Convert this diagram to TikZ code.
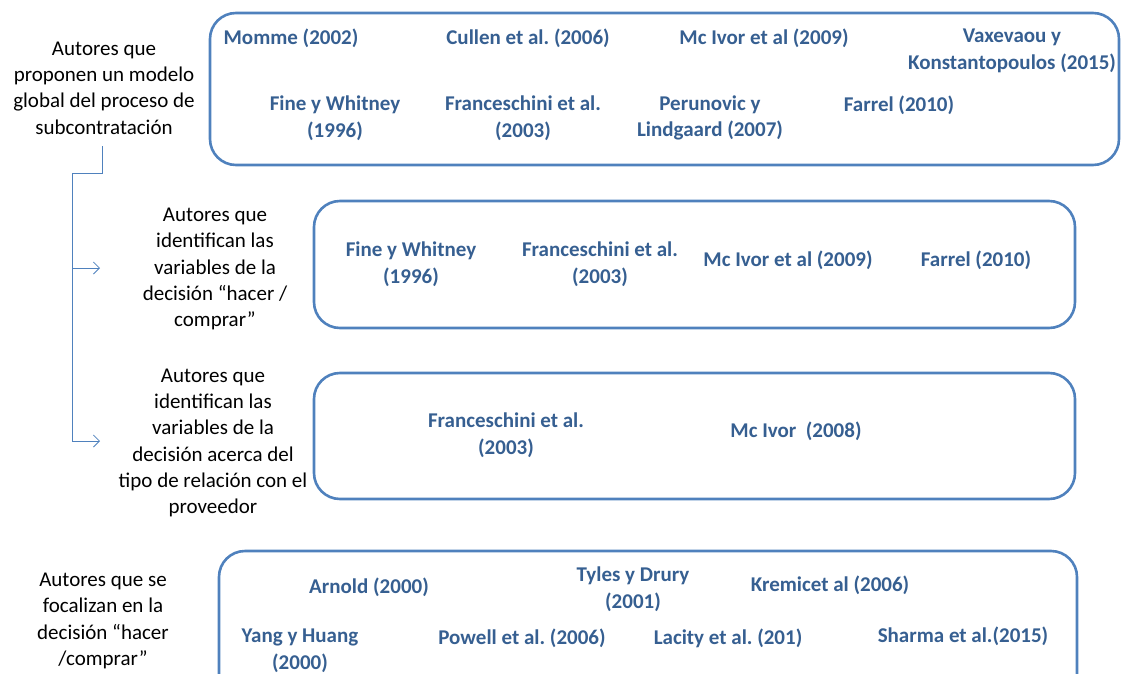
\documentclass[tikz,border=0pt]{standalone}
\usepackage{fontspec}
\setmainfont{Carlito}
\usetikzlibrary{arrows.meta}
\definecolor{boxblue}{HTML}{4F81BD}
\definecolor{authblue}{HTML}{365F91}
\frenchspacing
\tikzset{
  group/.style={draw=boxblue, line width=2.6pt, rounded corners=26pt},
  auth/.style={font=\fontsize{21}{26.5}\selectfont\bfseries, text=authblue, align=center, inner sep=0pt},
  lab/.style={font=\fontsize{21}{26.3}\selectfont, text=black, align=center, inner sep=0pt},
  link/.style={draw=boxblue, line width=0.8pt},
  tip/.style={-{Straight Barb[length=6pt,width=12pt]}}
}
\begin{document}
\begin{tikzpicture}[x=1pt,y=-1pt]
\useasboundingbox (0,0) rectangle (1121,674);
\clip (0,0) rectangle (1121,674);
% group frames
\draw[group] (210,13) rectangle (1119,165);
\draw[group] (314,201) rectangle (1075,328);
\draw[group] (314,373) rectangle (1075,499);
\draw[group] (219,551) rectangle (1077,700);

% left captions
\node[lab] (l1) at (104,88) {Autores que\\proponen un modelo\\global del proceso de\\subcontratación};
\node[lab] (l2) at (215,269) {Autores que\\identifican las\\variables de la\\decisión “hacer /\\comprar”};
\node[lab] (l3) at (213,443) {Autores que\\identifican las\\variables de la\\decisión acerca del\\tipo de relación con el\\proveedor};
\node[lab] (l4) at (103,621) {Autores que se\\focalizan en la\\decisión “hacer\\/comprar”};

% branching connector
\coordinate (s0) at (102,146);
\coordinate (s1) at (102,173);
\coordinate (s2) at (72,173);
\coordinate (b1) at (72,268);
\coordinate (b2) at (72,441);
\coordinate (e1) at (100,268);
\coordinate (e2) at (100,441);
\draw[link] (s0) -- (s1) -- (s2) -- (b2);
\draw[link,tip] (b1) -- (e1);
\draw[link,tip] (b2) -- (e2);

% first group
\node[auth] (a11) at (291,38) {Momme (2002)};
\node[auth] (a12) at (528,38) {Cullen et al. (2006)};
\node[auth] (a13) at (764,38) {Mc Ivor et al (2009)};
\node[auth] (a14) at (1012,51) {Vaxevaou y\\Konstantopoulos (2015)};
\node[auth] (a15) at (335,118) {Fine y Whitney\\(1996)};
\node[auth] (a16) at (523,118) {Franceschini et al.\\(2003)};
\node[auth] (a17) at (710,118) {Perunovic y\\Lindgaard (2007)};
\node[auth] (a18) at (899,105) {Farrel (2010)};

% second group
\node[auth] (a21) at (411,264) {Fine y Whitney\\(1996)};
\node[auth] (a22) at (600,264) {Franceschini et al.\\(2003)};
\node[auth] (a23) at (788,260) {Mc Ivor et al (2009)};
\node[auth] (a24) at (976,260) {Farrel (2010)};

% third group
\node[auth] (a31) at (506,435) {Franceschini et al.\\(2003)};
\node[auth] (a32) at (796,431) {Mc Ivor\ \ (2008)};

% fourth group
\node[auth] (a41) at (369,587) {Arnold (2000)};
\node[auth] (a42) at (633,589) {Tyles y Drury\\(2001)};
\node[auth] (a43) at (830,585) {Kremicet al (2006)};
\node[auth] (a44) at (300,651) {Yang y Huang\\(2000)};
\node[auth] (a45) at (522,638) {Powell et al. (2006)};
\node[auth] (a46) at (728,638) {Lacity et al. (201)};
\node[auth] (a47) at (963,636) {Sharma et al.(2015)};
\end{tikzpicture}
\end{document}
